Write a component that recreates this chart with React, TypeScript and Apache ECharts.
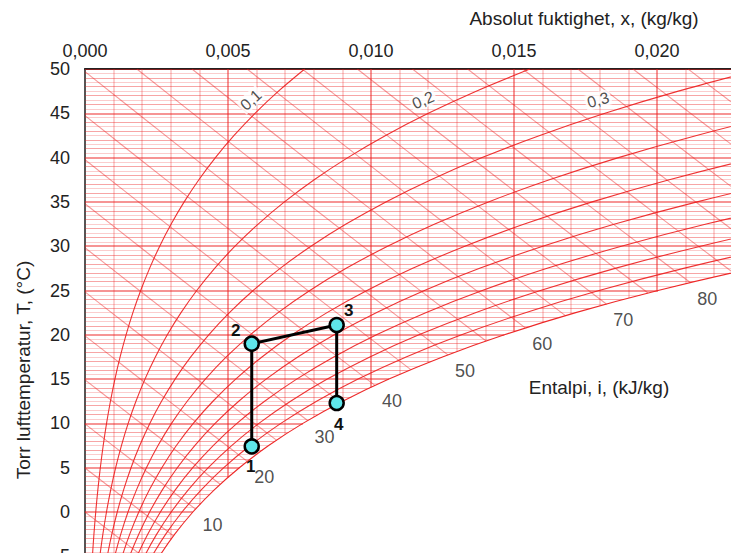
import React, { useEffect, useRef } from "react";
import * as echarts from "echarts";

// Saturation vapour pressure table (kPa) used to build the psychrometric grid
const tempSteps = [-10, -7.5, -5, -2.5, 0, 2.5, 5, 7.5, 10, 12.5, 15, 17.5, 20, 22.5, 25, 27.5, 30, 32.5, 35, 37.5, 40, 42.5, 45, 47.5, 50];
const satPressureKPa = [0.2868, 0.3485, 0.4219, 0.5087, 0.6109, 0.731, 0.8716, 1.0355, 1.226, 1.4469, 1.702, 1.996, 2.3334, 2.7201, 3.1618, 3.6651, 4.2366, 4.8847, 5.6172, 6.444, 7.375, 8.42, 9.592, 10.901, 12.361];
const rhLevels = [0.1, 0.2, 0.3, 0.4, 0.5, 0.6, 0.7, 0.8, 0.9];
const enthalpyLevels = [-10, -5, 0, 5, 10, 15, 20, 25, 30, 35, 40, 45, 50, 55, 60, 65, 70, 75, 80, 85, 90, 95, 100, 105];
const enthalpyLabelValues = [10, 20, 30, 40, 50, 60, 70, 80];
const rhLabelTexts = ["0,1", "0,2", "0,3"];
const rhLabelX = [0.0058, 0.01182, 0.01794];
const rhLabelT = [46.5, 46.5, 46.5];
const rhLabelAngle = [42, 23, 16];
// Process points
const pointNames = ["1", "2", "3", "4"];
const pointX = [0.00583, 0.00583, 0.0088, 0.0088];
const pointT = [7.4, 19.0, 21.1, 12.3];

const P_ATM = 101.325;
const X_MIN = 0;
const X_MAX = 0.022587;
const T_MIN = -10;
const T_MAX = 50;

function humRatio(phi: number, pws: number) {
  return (0.622 * phi * pws) / (P_ATM - phi * pws);
}
function pwsAt(T: number) {
  if (T <= tempSteps[0]) return satPressureKPa[0];
  for (let i = 0; i < tempSteps.length - 1; i++) {
    if (T <= tempSteps[i + 1]) {
      const f = (T - tempSteps[i]) / (tempSteps[i + 1] - tempSteps[i]);
      return Math.exp(Math.log(satPressureKPa[i]) * (1 - f) + Math.log(satPressureKPa[i + 1]) * f);
    }
  }
  return satPressureKPa[satPressureKPa.length - 1];
}
function satX(T: number) {
  return humRatio(1, pwsAt(T));
}
function enth(x: number, T: number) {
  return 1.006 * T + x * (2501 + 1.86 * T);
}
function bisect(f: (t: number) => number, target: number) {
  let lo = T_MIN, hi = T_MAX;
  for (let k = 0; k < 50; k++) {
    const m = (lo + hi) / 2;
    if (f(m) > target) hi = m; else lo = m;
  }
  return (lo + hi) / 2;
}
const satTempForH = (h: number) => bisect((t) => enth(satX(t), t), h);
const satTempForX = (x: number) => bisect((t) => satX(t), x);

const RED = "rgba(236,30,30,";

export default function App() {
  const ref = useRef<HTMLDivElement>(null);
  useEffect(() => {
    if (!ref.current) return;
    const chart = echarts.init(ref.current, undefined, { renderer: "svg" });

    // Horizontal grid lines (0.5 °C), ending at saturation
    const hLines: any[] = [];
    for (let k = T_MIN * 2; k <= T_MAX * 2; k++) {
      const t = k / 2;
      const xe = Math.min(X_MAX, satX(t));
      const major = k % 10 === 0;
      const integer = k % 2 === 0;
      hLines.push({
        coords: [[X_MIN, t], [xe, t]],
        lineStyle: major
          ? { color: RED + "0.95)", width: 2 }
          : integer
          ? { color: RED + "0.8)", width: 1.2 }
          : { color: RED + "0.45)", width: 1.2 },
      });
    }
    // Vertical grid lines (0.001 kg/kg), starting at saturation
    const vLines: any[] = [];
    for (let k = 1; k <= 22; k++) {
      const x = k / 1000;
      const ts = Math.max(T_MIN, satTempForX(x));
      const major = k % 5 === 0;
      vLines.push({
        coords: [[x, ts], [x, T_MAX]],
        lineStyle: major ? { color: RED + "0.95)", width: 2 } : { color: RED + "0.55)", width: 1.5 },
      });
    }
    // Enthalpy lines, ending at saturation
    const hEnth: any[] = [];
    enthalpyLevels.forEach((h) => {
      const x0 = Math.max(0, (h - 1.006 * T_MAX) / (2501 + 1.86 * T_MAX));
      const xSat = satX(satTempForH(h));
      const x1 = Math.min(X_MAX, xSat, (h - 1.006 * T_MIN) / (2501 + 1.86 * T_MIN));
      if (x1 <= x0) return;
      const coords: number[][] = [];
      const n = 8;
      for (let i = 0; i <= n; i++) {
        const x = x0 + ((x1 - x0) * i) / n;
        coords.push([x, (h - 2501 * x) / (1.006 + 1.86 * x)]);
      }
      hEnth.push({ coords });
    });

    const satData = tempSteps.map((t, i) => [humRatio(1, satPressureKPa[i]), t]);
    const rhSeries = rhLevels.map((phi) => ({
      type: "line",
      data: tempSteps.map((t, i) => [humRatio(phi, satPressureKPa[i]), t]),
      showSymbol: false,
      symbol: "none",
      smooth: 0.3,
      silent: true,
      z: 3,
      lineStyle: { color: RED + "0.9)", width: 1.1 },
    }));

    const enthLabelData = enthalpyLabelValues.map((h) => {
      const T = satTempForH(h);
      return { name: String(h), value: [satX(T), T] };
    });

    const rhLabelData = rhLabelTexts.map((s, i) => ({
      name: s,
      value: [rhLabelX[i], rhLabelT[i]],
      label: { rotate: rhLabelAngle[i] },
    }));

    const labelOffsets: Record<string, number[]> = {
      "1": [-1, 20],
      "2": [-16, -13],
      "3": [12, -15],
      "4": [2, 21],
    };
    const procData = pointNames.map((n, i) => ({
      name: n,
      value: [pointX[i], pointT[i]],
      label: { offset: labelOffsets[n] },
    }));

    const font = "Liberation Sans, Arial, Helvetica, sans-serif";

    chart.setOption({
      animation: false,
      backgroundColor: "#fff",
      grid: { left: 85, top: 69, width: 646, height: 531.6, containLabel: false, outerBoundsMode: "none" },
      xAxis: {
        type: "value",
        position: "top",
        min: X_MIN,
        max: X_MAX,
        interval: 0.005,
        axisLine: { show: true, onZero: false, lineStyle: { color: "#222", width: 2 } },
        axisTick: { show: false },
        splitLine: { show: false },
        axisLabel: {
          showMaxLabel: false,
          fontSize: 18,
          fontFamily: font,
          color: "#222",
          margin: 9,
          formatter: (v: number) => v.toFixed(3).replace(".", ","),
        },
      },
      yAxis: {
        type: "value",
        min: T_MIN,
        max: T_MAX,
        interval: 5,
        axisLine: { show: true, onZero: false, lineStyle: { color: "#555", width: 2 } },
        axisTick: { show: false },
        splitLine: { show: false },
        axisLabel: { fontSize: 18, fontFamily: font, color: "#222", margin: 15 },
      },
      graphic: [
        {
          type: "text",
          x: 584,
          y: 18,
          style: { text: "Absolut fuktighet, x, (kg/kg)", font: `19px ${font}`, fill: "#222", textAlign: "center", textVerticalAlign: "middle" },
        },
        {
          type: "text",
          x: 23,
          y: 370,
          rotation: Math.PI / 2,
          style: { text: "Torr lufttemperatur, T, (°C)", font: `19px ${font}`, fill: "#222", textAlign: "center", textVerticalAlign: "middle" },
        },
        {
          type: "text",
          x: 599,
          y: 387,
          z: 100,
          style: { text: "Entalpi, i, (kJ/kg)", font: `19px ${font}`, fill: "#222", textAlign: "center", textVerticalAlign: "middle" },
        },
      ],
      series: [
        { type: "lines", coordinateSystem: "cartesian2d", data: hLines, silent: true, z: 1, clip: true },
        { type: "lines", coordinateSystem: "cartesian2d", data: vLines, silent: true, z: 1, clip: true },
        {
          type: "lines",
          coordinateSystem: "cartesian2d",
          polyline: true,
          data: hEnth,
          silent: true,
          z: 1,
          clip: true,
          lineStyle: { color: RED + "0.9)", width: 1.1 },
        },
        {
          type: "line",
          data: satData,
          showSymbol: false,
          symbol: "none",
          smooth: 0.3,
          silent: true,
          z: 2,
          lineStyle: { color: RED + "0.95)", width: 1.1 },
        },
        ...rhSeries,
        {
          type: "scatter",
          data: enthLabelData,
          symbolSize: 1,
          itemStyle: { color: "rgba(0,0,0,0)" },
          silent: true,
          z: 4,
          label: {
            show: true,
            position: "inside",
            offset: [17, 16],
            formatter: "{b}",
            fontSize: 18,
            fontFamily: font,
            color: "#222",
          },
        },
        {
          type: "scatter",
          data: rhLabelData,
          symbolSize: 1,
          itemStyle: { color: "rgba(0,0,0,0)" },
          silent: true,
          z: 5,
          label: {
            show: true,
            position: "inside",
            formatter: "{b}",
            fontSize: 16,
            fontFamily: font,
            color: "#222",
            backgroundColor: "#fff",
            padding: [0, 2],
          },
        },
        {
          type: "line",
          data: procData,
          z: 6,
          symbol: "circle",
          symbolSize: 14,
          lineStyle: { color: "#000", width: 3 },
          itemStyle: { color: "#5fe6ea", borderColor: "#000", borderWidth: 2.5 },
          label: {
            show: true,
            position: "inside",
            formatter: "{b}",
            fontSize: 17,
            fontWeight: "bold",
            fontFamily: font,
            color: "#111",
          },
        },
      ],
    });
    return () => chart.dispose();
  }, []);
  return (
    <div style={{ position: "fixed", left: 0, top: 0, width: 731, height: 553, overflow: "hidden", background: "#fff" }}>
      <div ref={ref} style={{ width: 731, height: 620 }} />
    </div>
  );
}
